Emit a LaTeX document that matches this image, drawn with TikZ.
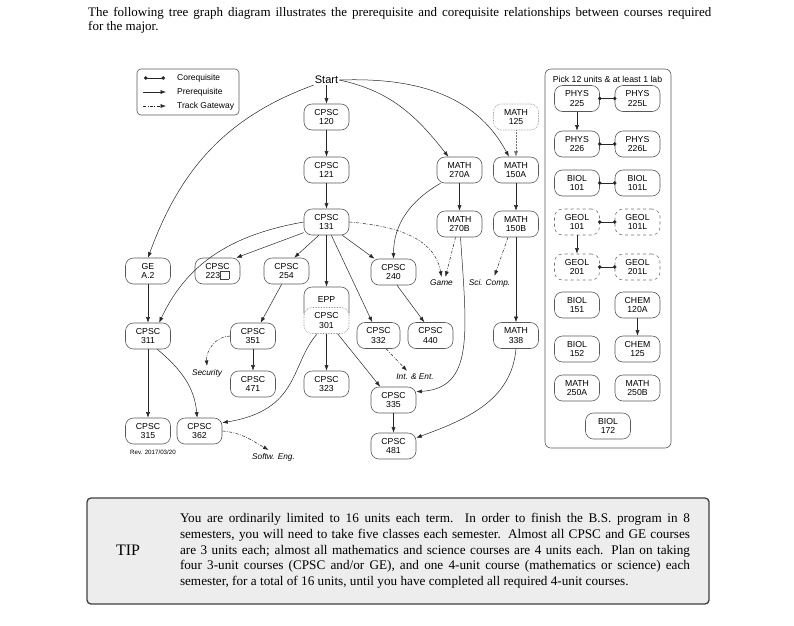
\documentclass[tikz,border=0pt]{standalone}
\usepackage{fontspec}
\setmainfont{Liberation Serif}
\setsansfont{Liberation Sans}
\usetikzlibrary{arrows.meta}

\begin{document}
\begin{tikzpicture}[x=1pt,y=-1pt,
	course/.style={draw=black!65,line width=0.6pt,rounded corners=8pt,fill=white,minimum width=45pt,minimum height=26pt,inner sep=1pt,align=center,font=\sffamily\fontsize{8.7}{9.6}\selectfont},
	optcourse/.style={course,draw=black!50,densely dotted},
	labcourse/.style={course,draw=black!55,dashed},
	lbl/.style={font=\sffamily\itshape\fontsize{8.3}{9}\selectfont,inner sep=3pt},
	pre/.style={draw=black!85,line width=0.5pt,-{Latex[length=5.5pt,width=4pt]}},
	track/.style={pre,dash pattern=on 3pt off 1.5pt on 0.8pt off 1.5pt},
	coreq/.style={draw=black!85,line width=0.6pt,{Circle[length=3.6pt]}-{Circle[length=3.6pt]},shorten <=-1.8pt,shorten >=-1.8pt}]
	\useasboundingbox (0,0) rectangle (794,625);
	
	% intro text
	\node[anchor=north west,inner sep=0pt,text width=623pt,align=justify,font=\fontsize{13}{14.4}\selectfont] (intro) at (88,7) {The following tree graph diagram illustrates the prerequisite and corequisite relationships between courses required\linebreak for the major.};
	
	% legend
	\draw[draw=black!65,line width=0.6pt,rounded corners=4pt] (137,69) rectangle (239,115);
	\coordinate (lgca) at (144,78); \coordinate (lgcb) at (165,78);
	\coordinate (lgpa) at (143,92); \coordinate (lgpb) at (166,92);
	\coordinate (lgta) at (143,106); \coordinate (lgtb) at (166,106);
	\draw[coreq,shorten <=0pt,shorten >=0pt] (lgca) -- (lgcb);
	\draw[pre] (lgpa) -- (lgpb);
	\draw[track] (lgta) -- (lgtb);
	\node[anchor=west,inner sep=0pt,font=\sffamily\fontsize{8.5}{9}\selectfont] (lgcoreq) at (177,78) {Corequisite};
	\node[anchor=west,inner sep=0pt,font=\sffamily\fontsize{8.5}{9}\selectfont] (lgpre) at (177,92) {Prerequisite};
	\node[anchor=west,inner sep=0pt,font=\sffamily\fontsize{8.5}{9}\selectfont] (lgtrack) at (177,106) {Track Gateway};
	
	% main tree
	\node[font=\sffamily\fontsize{11}{12}\selectfont,inner sep=1pt] (start) at (326.5,80) {Start};
	\node[course] (c120) at (326.5,117) {CPSC\\120};
	\node[course] (c121) at (326.5,170) {CPSC\\121};
	\node[course] (c131) at (326.5,222) {CPSC\\131};
	\node[optcourse] (m125) at (516,117) {MATH\\125};
	\node[course] (m270a) at (459.5,170) {MATH\\270A};
	\node[course] (m150a) at (516,170) {MATH\\150A};
	\node[course] (m270b) at (459.5,224) {MATH\\270B};
	\node[course] (m150b) at (516,224) {MATH\\150B};
	\node[course] (gea2) at (148,271) {GE\\A.2};
	\node[course] (c223) at (217.5,271) {CPSC\\223{\setlength{\fboxsep}{0pt}\setlength{\fboxrule}{0.35pt}\color{black!75}\fbox{\rule{0pt}{7.5pt}\hspace{8.5pt}}}};
	\node[course] (c254) at (286.5,271) {CPSC\\254};
	\node[course] (c240) at (393.5,272) {CPSC\\240};
	\node[lbl] (game) at (441.5,283) {Game};
	\node[lbl] (scicomp) at (489.5,283) {Sci. Comp.};
	\node[course,minimum height=34pt,text depth=10pt] (epp) at (326.5,304) {EPP};
	\node[optcourse] (c301) at (326.5,320.5) {CPSC\\301};
	\node[course] (c311) at (148,336) {CPSC\\311};
	\node[course] (c351) at (253,336) {CPSC\\351};
	\node[course,minimum width=43pt] (c332) at (378.5,335.5) {CPSC\\332};
	\node[course] (c440) at (430.5,335.5) {CPSC\\440};
	\node[course] (m338) at (516,335.5) {MATH\\338};
	\node[lbl] (security) at (207,373) {Security};
	\node[course] (c471) at (253,384) {CPSC\\471};
	\node[course] (c323) at (326.5,384) {CPSC\\323};
	\node[lbl] (intent) at (415,377) {Int. \& Ent.};
	\node[course] (c335) at (393.5,400) {CPSC\\335};
	\node[course] (c315) at (148,431) {CPSC\\315};
	\node[course] (c362) at (199.5,431) {CPSC\\362};
	\node[course] (c481) at (393.5,446) {CPSC\\481};
	\node[lbl] (softw) at (273.5,457) {Softw. Eng.};
	\node[font=\sffamily\fontsize{6.2}{7}\selectfont] (rev) at (153,452) {Rev. 2017/03/20};
	
	\draw[pre] (start) -- (c120);
	\draw[pre] (start.south west) to[out=200,in=70] (gea2.north);
	\draw[pre] (start.east) to[out=-12,in=128] (m270a.130);
	\draw[pre] (start.east) to[out=2,in=118] (m150a.118);
	\draw[pre,densely dotted,draw=black!55] (m125) -- (m150a);
	\draw[pre] (c120) -- (c121);
	\draw[pre] (c121) -- (c131);
	\draw[pre] (m270a) -- (m270b);
	\draw[pre] (m150a) -- (m150b);
	\draw[pre] (m270a.215) to[out=210,in=90] (c240.north);
	\draw[track] (c131.east) to[out=-5,in=100] (game.north);
	\draw[track] ([xshift=-4pt]m270b.south) -- ([xshift=4pt]game.north);
	\draw[track] ([xshift=-8pt]m150b.south) -- ([xshift=5pt]scicomp.north);
	\draw[pre] (m150b) -- (m338);
	\draw[pre] ([xshift=1pt]m270b.south) .. controls (467,335) and (474,388) .. (c335.20);
	\draw[pre] (m338.south) to[out=-95,in=20] (c481.20);
	\draw[pre] (c131.205) -- ([xshift=-4pt]c223.north east);
	\draw[pre] (c131.240) -- (c254.60);
	\draw[pre] (c131.west) to[out=190,in=65] (c311.50);
	\draw[pre] (c131) -- (epp);
	\draw[pre] (c131.290) -- (c332.115);
	\draw[pre] (c131.-40) -- (c240.145);
	\draw[pre] (gea2) -- (c311);
	\draw[pre] (c254.250) -- (c351.60);
	\draw[pre] (c240.285) -- (c440.115);
	\draw[track] (c351.west) to[out=180,in=95] (security.north);
	\draw[pre] (c351) -- (c471);
	\draw[pre] (c301) -- (c323);
	\draw[pre] (c301.-50) -- (c335.135);
	\draw[pre] (c301.235) .. controls (290,365) and (300,410) .. (c362.20);
	\draw[pre] (c311.-55) to[out=-40,in=95] (c362.100);
	\draw[pre] (c311) -- (c315);
	\draw[track] (c332.-60) -- ([xshift=-8pt]intent.north);
	\draw[track] (c362.east) to[out=-5,in=150] ([xshift=-5pt]softw.north);
	\draw[pre] (c335) -- (c481);
	
	% science panel
	\draw[draw=black!65,line width=0.6pt,rounded corners=6pt] (545,69) rectangle (671,448);
	\node[font=\sffamily\fontsize{8.7}{9}\selectfont] (picktitle) at (607.5,79) {Pick 12 units \& at least 1 lab};
	\node[course] (phys225) at (577,98.5) {PHYS\\225};
	\node[course] (phys225l) at (637.5,98.5) {PHYS\\225L};
	\node[course] (phys226) at (577,144) {PHYS\\226};
	\node[course] (phys226l) at (637.5,144) {PHYS\\226L};
	\node[course] (biol101) at (577,183) {BIOL\\101};
	\node[course] (biol101l) at (637.5,183) {BIOL\\101L};
	\node[labcourse] (geol101) at (577,222) {GEOL\\101};
	\node[labcourse] (geol101l) at (637.5,222) {GEOL\\101L};
	\node[labcourse] (geol201) at (577,267) {GEOL\\201};
	\node[labcourse] (geol201l) at (637.5,267) {GEOL\\201L};
	\node[course] (biol151) at (577,305) {BIOL\\151};
	\node[course] (chem120a) at (637.5,305) {CHEM\\120A};
	\node[course] (biol152) at (577,349) {BIOL\\152};
	\node[course] (chem125) at (637.5,349) {CHEM\\125};
	\node[course] (m250a) at (577,388) {MATH\\250A};
	\node[course] (m250b) at (637.5,388) {MATH\\250B};
	\node[course] (biol172) at (608,426) {BIOL\\172};
	
	\draw[coreq] (phys225) -- (phys225l);
	\draw[pre] (phys225) -- (phys226);
	\draw[coreq] (phys226) -- (phys226l);
	\draw[coreq] (biol101) -- (biol101l);
	\draw[coreq] (geol101) -- (geol101l);
	\draw[pre] (geol101) -- (geol201);
	\draw[coreq] (geol201) -- (geol201l);
	\draw[pre] (chem120a) -- (chem125);
	
	% tip box
	\draw[draw=black!75,fill=black!7,line width=1.3pt,rounded corners=4pt] (87,498) rectangle (709,604);
	\node[font=\fontsize{16}{17}\selectfont] (tip) at (128,550) {TIP};
	\node[text width=510pt,align=justify,inner sep=0pt,font=\fontsize{13.2}{15.7}\selectfont] (tiptext) at (435,551) {You are ordinarily limited to 16 units each term.  In order to finish the B.S. program in 8\linebreak semesters, you will need to take five classes each semester. Almost all CPSC and GE courses\linebreak are 3 units each; almost all mathematics and science courses are 4 units each. Plan on taking\linebreak four 3-unit courses (CPSC and/or GE), and one 4-unit course (mathematics or science) each\linebreak semester, for a total of 16 units, until you have completed all required 4-unit courses.};
\end{tikzpicture}
\end{document}
